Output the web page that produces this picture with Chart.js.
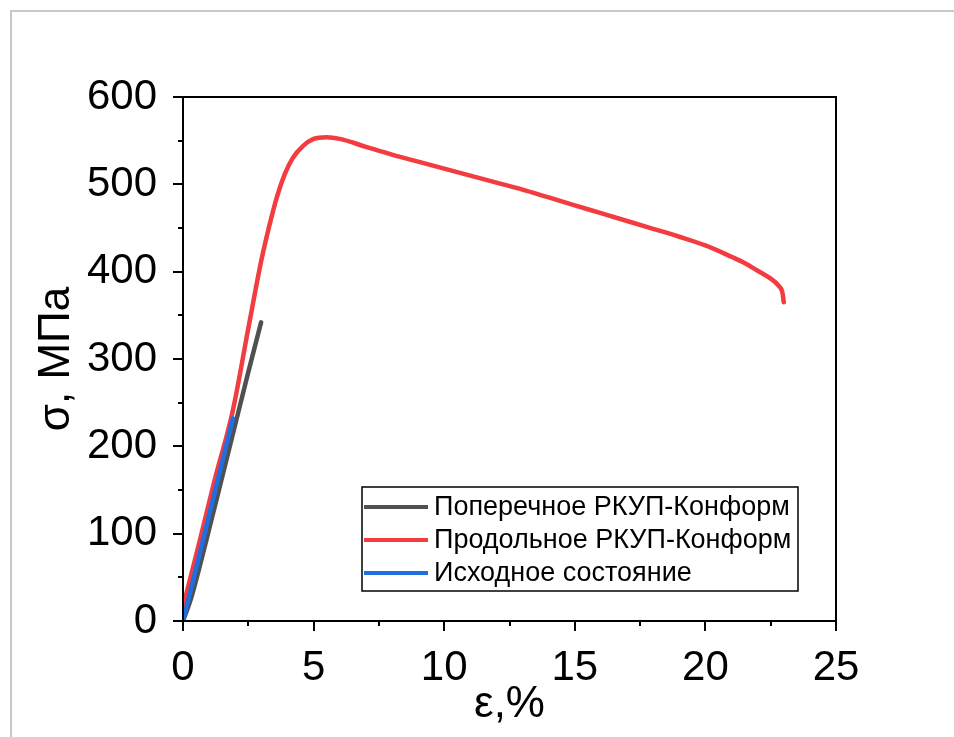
<!DOCTYPE html>
<html>
<head>
<meta charset="utf-8">
<script src="https://cdn.jsdelivr.net/npm/chart.js@4.4.1/dist/chart.umd.min.js"></script>
<style>
  body { margin: 0; background: #fff; }
  canvas { display: block; }
</style>
</head>
<body>
<canvas id="stressChart" width="954" height="737"></canvas>
<script>
// Data (strain %, stress MPa)
const seriesNames = ["Поперечное РКУП-Конформ", "Продольное РКУП-Конформ", "Исходное состояние"];
const seriesColors = ["#505050", "#f23c40", "#1f6fe0"];

const transStrain = [0, 0.3, 0.6, 1.0, 1.5, 2.0, 2.5, 2.99];
const transStress = [0, 25, 58, 105, 165, 225, 285, 342];

const longStrain = [0, 0.65, 1.2, 1.9, 2.5, 3, 3.3, 3.6, 3.9, 4.2, 4.6, 5.0, 5.5, 6, 7, 8, 9, 10, 11, 12, 13, 14, 15, 16, 17, 18, 19, 20, 21, 21.5, 22, 22.5, 22.8, 22.95, 23.0];
const longStress = [16, 93, 160, 240, 335, 413, 452, 486, 512, 530, 544, 552, 554, 552, 543, 534, 526, 518, 510, 502, 494, 485, 476, 467, 458, 449, 440, 430, 417, 410, 401, 392, 384, 376, 365];

const initStrain = [0, 0.5, 1.0, 1.5, 1.91];
const initStress = [0, 60, 121, 182, 232];

const xTicks = [0, 5, 10, 15, 20, 25];
const yTicks = [0, 100, 200, 300, 400, 500, 600];

function toPoints(xs, ys) {
  return xs.map((x, i) => ({ x: x, y: ys[i] }));
}

const chartLeft = 183, chartTop = 97, chartRight = 836, chartBottom = 621;
const padLeft = 30, padBottom = 6;

// frame, tick marks, page border and legend
const decorPlugin = {
  id: "decor",
  beforeDraw(chart) {
    const c = chart.ctx;
    c.save();
    c.strokeStyle = "#c8c8c8";
    c.lineWidth = 2;
    c.beginPath();
    c.moveTo(11, 737);
    c.lineTo(11, 11);
    c.lineTo(954, 11);
    c.stroke();
    c.restore();
  },
  afterDraw(chart) {
    const c = chart.ctx;
    const a = chart.chartArea;
    const xs = chart.scales.x, ys = chart.scales.y;
    c.save();
    c.strokeStyle = "#000";
    c.lineWidth = 2;
    c.strokeRect(a.left, a.top, a.right - a.left, a.bottom - a.top);
    c.beginPath();
    for (let v = 0; v <= 25; v += 2.5) {
      const px = Math.round(xs.getPixelForValue(v));
      const len = v % 5 === 0 ? 10 : 5;
      c.moveTo(px, a.bottom);
      c.lineTo(px, a.bottom + len);
    }
    for (let v = 0; v <= 600; v += 50) {
      const py = Math.round(ys.getPixelForValue(v));
      const len = v % 100 === 0 ? 10 : 5;
      c.moveTo(a.left, py);
      c.lineTo(a.left - len, py);
    }
    c.stroke();

    // legend box
    const bx = 362, by = 487, bw = 436, bh = 104;
    c.lineWidth = 1.5;
    c.strokeRect(bx, by, bw, bh);
    c.font = "27px 'Liberation Sans', Arial, sans-serif";
    c.textBaseline = "middle";
    c.fillStyle = "#000";
    chart.data.datasets.forEach((ds, i) => {
      const cy = by + 20 + i * 33;
      c.strokeStyle = ds.borderColor;
      c.lineWidth = 4;
      c.beginPath();
      c.moveTo(bx + 2, cy);
      c.lineTo(bx + 66, cy);
      c.stroke();
      c.fillText(ds.label, bx + 72, cy + 1);
    });
    c.restore();
  }
};

new Chart(document.getElementById("stressChart"), {
  type: "line",
  data: {
    datasets: [
      { label: seriesNames[0], data: toPoints(transStrain, transStress), borderColor: seriesColors[0], order: 1 },
      { label: seriesNames[1], data: toPoints(longStrain, longStress), borderColor: seriesColors[1], order: 2 },
      { label: seriesNames[2], data: toPoints(initStrain, initStress), borderColor: seriesColors[2], order: 0 }
    ]
  },
  options: {
    responsive: false,
    animation: false,
    events: [],
    elements: {
      point: { radius: 0 },
      line: { borderWidth: 4.5, cubicInterpolationMode: "monotone", borderCapStyle: "round" }
    },
    layout: {
      padding: { left: padLeft, top: chartTop, right: 954 - chartRight, bottom: padBottom }
    },
    plugins: {
      legend: { display: false },
      tooltip: { enabled: false }
    },
    scales: {
      x: {
        type: "linear",
        min: 0,
        max: 25,
        afterBuildTicks: (s) => { s.ticks = xTicks.map(v => ({ value: v })); },
        afterFit: (s) => { s.height = 737 - chartBottom - padBottom; },
        grid: { display: false },
        border: { display: false },
        ticks: {
          color: "#000",
          padding: 14,
          font: { family: "'Liberation Sans', Arial, sans-serif", size: 42 }
        },
        title: {
          display: true,
          text: "ε,%",
          color: "#000",
          padding: { top: 0, bottom: 0 },
          font: { family: "'Liberation Sans', Arial, sans-serif", size: 44 }
        }
      },
      y: {
        min: 0,
        max: 600,
        afterBuildTicks: (s) => { s.ticks = yTicks.map(v => ({ value: v })); },
        afterFit: (s) => { s.width = chartLeft - padLeft; },
        grid: { display: false },
        border: { display: false },
        ticks: {
          color: "#000",
          padding: 18,
          font: { family: "'Liberation Sans', Arial, sans-serif", size: 42 }
        },
        title: {
          display: true,
          text: "σ, МПа",
          color: "#000",
          padding: { top: 0, bottom: 0 },
          font: { family: "'Liberation Sans', Arial, sans-serif", size: 44 }
        }
      }
    }
  },
  plugins: [decorPlugin]
});
</script>
</body>
</html>
